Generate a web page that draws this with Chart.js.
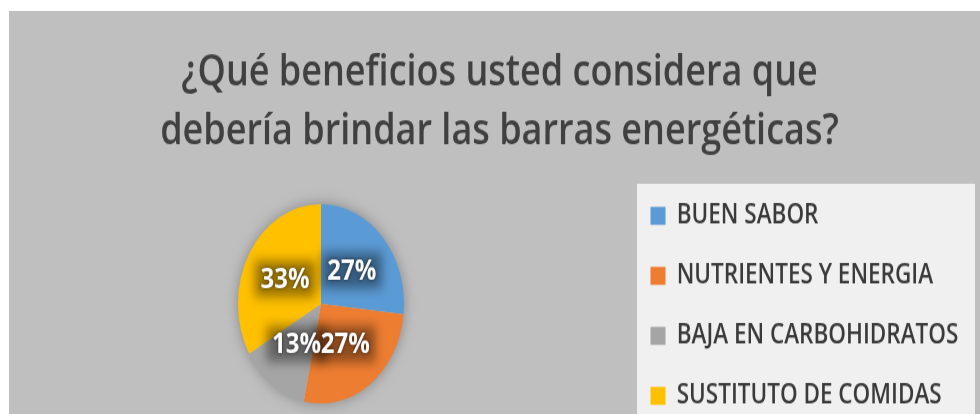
<!DOCTYPE html>
<html>
<head>
<meta charset="utf-8">
<script src="https://cdn.jsdelivr.net/npm/chart.js@4.4.1/dist/chart.umd.min.js"></script>
<style>
  html, body { margin: 0; padding: 0; background: #ffffff; }
  #wrap {
    position: absolute; left: 9px; top: 11px;
    width: 971px; height: 336px;
    transform: scaleY(1.2); transform-origin: 0 0;
  }
  #pie { background: #bfbfbf; display: block; }
</style>
</head>
<body>
<div id="wrap"><canvas id="pie" width="971" height="336"></canvas></div>
<script>
var titleLines = ['¿Qué beneficios usted considera que', 'debería brindar las barras energéticas?'];
var categories = ['BUEN SABOR', 'NUTRIENTES Y ENERGIA', 'BAJA EN CARBOHIDRATOS', 'SUSTITUTO DE COMIDAS'];
var answers = [4, 4, 2, 5];
var colors = ['#5b9bd5', '#ed7d31', '#a5a5a5', '#ffc000'];

// keep the legend column at a fixed width so it starts where the original does
var legendWidth = {
  id: 'legendWidth',
  beforeLayout(chart) {
    var lg = chart.legend;
    if (lg && !lg._fixedWidth) {
      var fit = lg.fit;
      lg.fit = function() { fit.call(this); this.width = 357; };
      lg._fixedWidth = true;
    }
  }
};

// light panel behind the legend + soft shadow under the pie
var backdrop = {
  id: 'backdrop',
  beforeDraw(chart) {
    var lg = chart.legend, c = chart.ctx;
    var first = lg.legendHitBoxes[0];
    c.save();
    c.fillStyle = '#f0f0f0';
    c.fillRect(lg.left + 14, first.top - 15.5, chart.width - lg.left - 19, chart.height);
    c.restore();
  },
  beforeDatasetsDraw(chart) {
    var arc = chart.getDatasetMeta(0).data[0], c = chart.ctx;
    c.save();
    c.shadowColor = 'rgba(0,0,0,0.35)';
    c.shadowBlur = 14;
    c.fillStyle = '#bfbfbf';
    c.beginPath();
    c.arc(arc.x, arc.y, arc.outerRadius - 1, 0, Math.PI * 2);
    c.fill();
    c.restore();
  }
};

// percentage labels with a dark blurred plate behind them
var pctLabels = {
  id: 'pctLabels',
  afterDatasetsDraw(chart) {
    var c = chart.ctx;
    var meta = chart.getDatasetMeta(0);
    var data = chart.data.datasets[0].data;
    var total = data.reduce((a, b) => a + b, 0);
    c.save();
    c.filter = 'blur(5px)';
    c.fillStyle = 'rgba(0,0,0,0.4)';
    meta.data.forEach(function(arc) {
      var p = arc.tooltipPosition();
      c.fillRect(p.x - 30, p.y - 15, 60, 30);
    });
    c.filter = 'none';
    c.font = 'bold 24px "Open Sans"';
    c.textAlign = 'center';
    c.textBaseline = 'middle';
    c.fillStyle = '#ffffff';
    c.shadowColor = 'rgba(0,0,0,0.6)';
    c.shadowBlur = 3;
    meta.data.forEach(function(arc, i) {
      var p = arc.tooltipPosition();
      c.fillText(Math.round(data[i] / total * 100) + '%', p.x, p.y + 1);
    });
    c.restore();
  }
};

var ctx = document.getElementById('pie').getContext('2d');
var chart = new Chart(ctx, {
  type: 'pie',
  data: {
    labels: categories,
    datasets: [{
      data: answers,
      backgroundColor: colors,
      borderWidth: 0
    }]
  },
  options: {
    responsive: false,
    animation: false,
    devicePixelRatio: 1,
    radius: 83,
    layout: { padding: { left: 10, right: 0, top: 0, bottom: -23.5 } },
    plugins: {
      title: {
        display: true,
        text: titleLines,
        color: '#404040',
        font: { family: 'Open Sans', size: 36, weight: '600', lineHeight: 1.361 },
        padding: { top: 27.5, bottom: 26.5 }
      },
      legend: {
        position: 'right',
        align: 'end',
        labels: {
          color: '#3a3a3a',
          font: { family: 'Open Sans', size: 22.5, weight: '600' },
          boxWidth: 15,
          boxHeight: 15,
          padding: 27.5
        }
      },
      tooltip: { enabled: false }
    }
  },
  plugins: [legendWidth, backdrop, pctLabels]
});
</script>
</body>
</html>
